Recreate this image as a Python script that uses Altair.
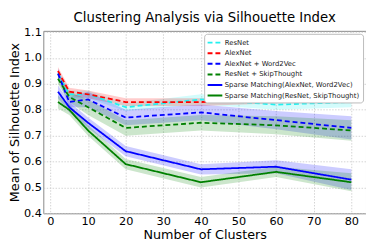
import altair as alt
import pandas as pd

clusters = [2, 5, 10, 20, 40, 60, 80]
series = [
    "ResNet",
    "AlexNet",
    "AlexNet + Word2Vec",
    "ResNet + SkipThought",
    "Sparse Matching(AlexNet, Word2Vec)",
    "Sparse Matching(ResNet, SkipThought)",
]
colors = ["#22f0f0", "#ff0000", "#0000ff", "#008000", "#0000ff", "#008000"]
dashes = [[5, 3], [5, 3], [5, 3], [5, 3], [1, 0], [1, 0]]

resnet = [0.94, 0.86, 0.86, 0.81, 0.84, 0.82, 0.83]
alexnet = [0.95, 0.87, 0.86, 0.83, 0.83, 0.84, 0.86]
alex_w2v = [0.94, 0.83, 0.84, 0.77, 0.79, 0.76, 0.73]
res_skip = [0.92, 0.85, 0.81, 0.73, 0.75, 0.74, 0.72]
sparse_alex = [0.87, 0.81, 0.75, 0.64, 0.57, 0.58, 0.53]
sparse_res = [0.83, 0.80, 0.72, 0.59, 0.52, 0.56, 0.52]

err_resnet = [0.015, 0.015, 0.015, 0.015, 0.02, 0.02, 0.02]
err_alexnet = [0.015, 0.015, 0.015, 0.015, 0.015, 0.015, 0.02]
err_alex_w2v = [0.02, 0.02, 0.03, 0.03, 0.03, 0.035, 0.045]
err_res_skip = [0.02, 0.02, 0.03, 0.03, 0.03, 0.035, 0.04]
err_sparse_alex = [0.025, 0.02, 0.02, 0.02, 0.02, 0.025, 0.04]
err_sparse_res = [0.025, 0.02, 0.02, 0.02, 0.02, 0.02, 0.035]

values = [resnet, alexnet, alex_w2v, res_skip, sparse_alex, sparse_res]
errors = [err_resnet, err_alexnet, err_alex_w2v, err_res_skip, err_sparse_alex, err_sparse_res]

rows = []
for s, vals, errs in zip(series, values, errors):
    for x, v, e in zip(clusters, vals, errs):
        rows.append({"series": s, "k": x, "mean": v, "lo": v - e, "hi": v + e})
df = pd.DataFrame(rows)

xscale = alt.Scale(domain=[-1.9, 83.9], nice=False, zero=False)
yscale = alt.Scale(domain=[0.4, 1.105], nice=False, zero=False)
cscale = alt.Scale(domain=series, range=colors)
dscale = alt.Scale(domain=series, range=dashes)

xaxis = alt.Axis(values=list(range(0, 81, 10)), labelOverlap=False)
yaxis = alt.Axis(values=[0.4, 0.5, 0.6, 0.7, 0.8, 0.9, 1.0, 1.1], format=".1f", labelOverlap=False)

legend = alt.Legend(
    title=None,
    orient="top-right",
    offset=3,
    labelFontSize=7,
    labelColor="#222222",
    symbolType="M-1.5,0H1.5",
    symbolSize=100,
    symbolStrokeWidth=2,
    symbolOpacity=1,
    symbolOffset=2,
    labelOffset=4,
    rowPadding=0.8,
    padding=3,
    strokeColor="#bbbbbb",
    fillColor="white",
    cornerRadius=3,
    labelLimit=300,
)

base = alt.Chart(df)

x_enc = alt.X("k:Q", scale=xscale, title="Number of Clusters", axis=xaxis)
color_enc = alt.Color("series:N", scale=cscale, sort=series, legend=legend)

bands = base.mark_area(opacity=0.2).encode(
    x=x_enc,
    y=alt.Y("lo:Q", scale=yscale, title="Mean of Silhouette Index", axis=yaxis),
    y2="hi:Q",
    color=color_enc,
    detail="series:N",
)

lines = base.mark_line(strokeWidth=1.8).encode(
    x=x_enc,
    y=alt.Y("mean:Q", scale=yscale, title="Mean of Silhouette Index", axis=yaxis),
    color=color_enc,
    strokeDash=alt.StrokeDash("series:N", scale=dscale, sort=series, legend=legend),
)

chart = (
    alt.layer(bands, lines)
    .properties(
        width=329,
        height=186,
        padding=0,
        title=alt.Title("Clustering Analysis via Silhouette Index", fontSize=13.5, fontWeight="normal", offset=2),
    )
    .configure(font="DejaVu Sans")
    .configure_view(stroke="#888888", strokeWidth=1)
    .configure_axis(
        domain=False,
        ticks=False,
        labelFontSize=11.5,
        labelColor="black",
        labelPadding=2,
        titleFontSize=13,
        titleFontWeight="normal",
        titleColor="black",
        titlePadding=2,
        grid=True,
        gridColor="#c8c8c8",
        gridDash=[1.5, 1.5],
        gridWidth=0.8,
    )
    .configure_axisY(labelPadding=2, titlePadding=2)
    .configure_title(color="black", anchor="middle")
)

chart.save("out.html", embed_options={"renderer": "svg", "actions": False})
